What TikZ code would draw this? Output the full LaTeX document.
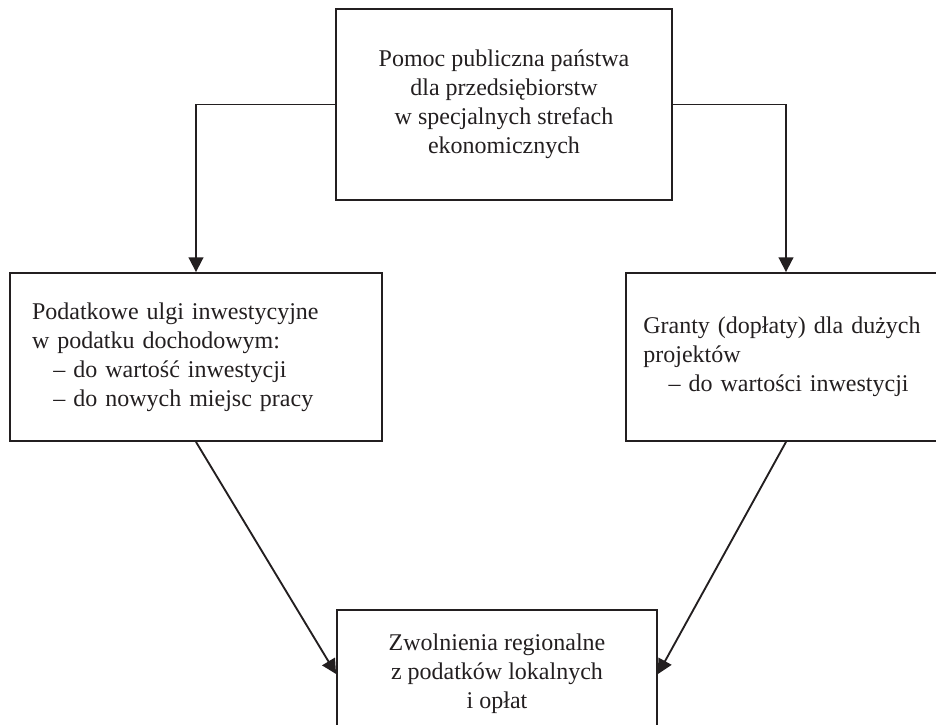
\documentclass[tikz,border=0pt]{standalone}
\usepackage{fontspec}
\setmainfont{Liberation Serif}
\usetikzlibrary{positioning, arrows.meta}
\definecolor{borderMain}{HTML}{231F20}
\definecolor{arrowColor}{HTML}{231F20}
\definecolor{textMain}{HTML}{231F20}
\tikzset{
  box/.style={
    draw=borderMain, fill=white, line width=1.4pt,
    font=\fontsize{18}{21.75}\selectfont, text=textMain, inner sep=0pt,
  },
  stdarrow/.style={
    -{Triangle[length=11pt, width=11pt]}, line width=1.4pt, color=arrowColor,
  },
}

\begin{document}
\begin{tikzpicture}[x=1pt, y=1pt]
  \useasboundingbox (0,0) rectangle (702,-543.75);

  % === Top: state aid ===
  \node[box, minimum width=252pt, minimum height=143pt, align=center] (aid) at (378,-78.4)
    {Pomoc publiczna państwa\\dla przedsiębiorstw\\w specjalnych strefach\\ekonomicznych};

  % === Middle row: tax reliefs and grants ===
  \node[box, minimum width=279pt, minimum height=126pt, text width=246pt, align=left] (reliefs) at (147,-267.75)
    {Podatkowe ulgi inwestycyjne\\w podatku dochodowym:\\\hspace*{16pt}– do wartość inwestycji\\\hspace*{16pt}– do nowych miejsc pracy};
  \node[box, minimum width=240pt, minimum height=126pt, text width=214pt, align=left] (grants) at (589.5,-267.75)
    {Granty (dopłaty) dla dużych\\projektów\\\hspace*{19pt}– do wartości inwestycji};

  % === Bottom: regional exemptions ===
  \node[box, minimum width=240pt, minimum height=96pt, align=center] (exempt) at (372.75,-505.5)
    {Zwolnienia regionalne\\z podatków lokalnych\\i opłat};

  % === Arrows ===
  \draw[stdarrow] (aid.west) -| (reliefs.north);
  \draw[stdarrow] (aid.east) -| (grants.north);
  \draw[stdarrow] (reliefs.south) -- (exempt.west);
  \draw[stdarrow] (grants.south) -- (exempt.east);

\end{tikzpicture}
\end{document}
